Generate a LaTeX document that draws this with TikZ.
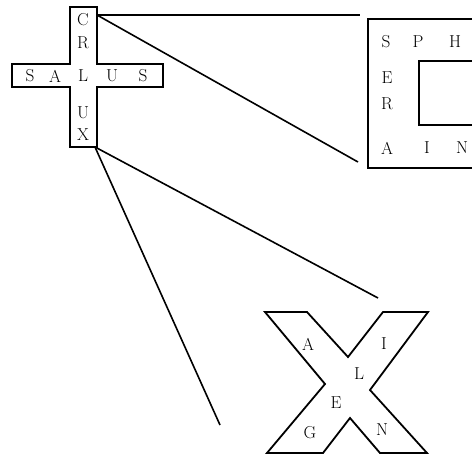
\documentclass[tikz,border=0pt]{standalone}
\usetikzlibrary{positioning}

\begin{document}
\begin{tikzpicture}[x=1pt,y=-1pt,line width=1.8pt,line join=miter]
  \tikzstyle{lett}=[inner sep=0pt,font=\LARGE]
  \tikzstyle{link}=[line width=1.6pt]
  \path[use as bounding box,clip] (0,0) rectangle (472,455);
  % crux
  \draw (70,7) -- (97,7) -- (97,64) -- (163,64) -- (163,87) -- (97,87)
    -- (97,147) -- (70,147) -- (70,87) -- (12,87) -- (12,64) -- (70,64) -- cycle;
  \node[lett] (c1) at (83,20) {C};
  \node[lett] (c2) at (83,43) {R};
  \node[lett] (s1) at (30,76) {S};
  \node[lett] (s2) at (55,76) {A};
  \node[lett] (s3) at (83,76) {L};
  \node[lett] (s4) at (112,76) {U};
  \node[lett] (s5) at (143,76) {S};
  \node[lett] (c4) at (83,113) {U};
  \node[lett] (c5) at (83,135) {X};
  \coordinate (cruxtop) at (97,15);
  \coordinate (cruxbot) at (95,147);
  % sphaera
  \draw (368,19) rectangle (517,168);
  \draw (419,61) rectangle (483,125);
  \node[lett] (p1) at (386,42) {S};
  \node[lett] (p2) at (418,42) {P};
  \node[lett] (p3) at (455,42) {H};
  \node[lett] (p4) at (387,78) {E};
  \node[lett] (p5) at (387,104) {R};
  \node[lett] (a1) at (387,148) {A};
  \node[lett] (a2) at (427,148) {I};
  \node[lett] (a3) at (462,148) {N};
  \coordinate (sph1) at (360,15);
  \coordinate (sph2) at (358,162);
  % x
  \draw (265,312) -- (307,312) -- (348,357) -- (383,312) -- (428,312) -- (370,390)
    -- (427,453) -- (380,453) -- (350,418) -- (323,453) -- (267,453) -- (325,384) -- cycle;
  \node[lett] (x1) at (308,344) {A};
  \node[lett] (x2) at (384,344) {I};
  \node[lett] (x3) at (359,374) {L};
  \node[lett] (x4) at (336,403) {E};
  \node[lett] (x5) at (310,433) {G};
  \node[lett] (x6) at (382,430) {N};
  \coordinate (xa) at (378,298);
  \coordinate (xb) at (220,425);
  % links
  \draw[link] (cruxtop) -- (sph1);
  \draw[link] (cruxtop) -- (sph2);
  \draw[link] (cruxbot) -- (xa);
  \draw[link] (cruxbot) -- (xb);
\end{tikzpicture}
\end{document}
